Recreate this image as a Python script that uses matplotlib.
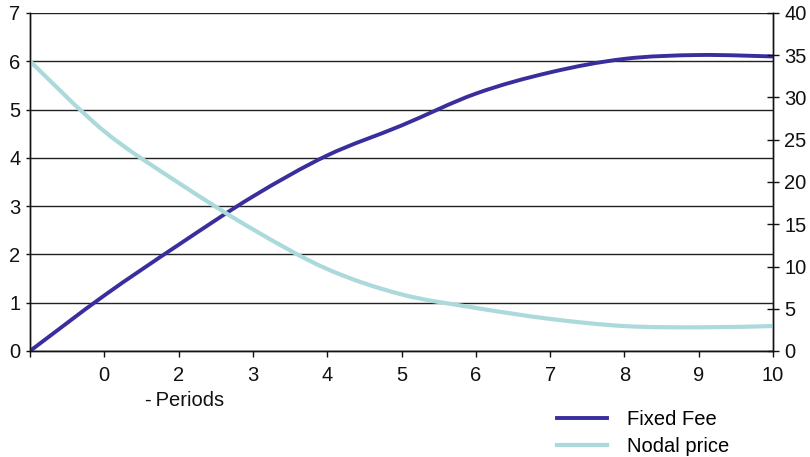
import matplotlib
matplotlib.use("Agg")
import matplotlib.pyplot as plt
import numpy as np
from matplotlib.path import Path
from matplotlib.patches import PathPatch
from matplotlib.lines import Line2D

plt.rcParams['font.family'] = ['Liberation Sans', 'DejaVu Sans']

# Data
periods = list(range(11))
tick_labels = ['', '0', '2', '3', '4', '5', '6', '7', '8', '9', '10']
fixed_fee = [0.0, 1.15, 2.2, 3.2, 4.05, 4.67, 5.33, 5.77, 6.05, 6.13, 6.1]
nodal_price = [34.3, 26.0, 19.9, 14.4, 9.7, 6.7, 5.1, 3.8, 2.95, 2.8, 2.95]

FIXED_COLOR = '#3a2e9c'
NODAL_COLOR = '#acd9db'
FS = 14.5


def smooth_path(xs, ys):
    """Catmull-Rom style cubic Bezier path through the given points."""
    pts = np.column_stack([xs, ys]).astype(float)
    n = len(pts)
    verts = [pts[0]]
    codes = [Path.MOVETO]
    for i in range(n - 1):
        p0 = pts[i - 1] if i > 0 else pts[i]
        p1 = pts[i]
        p2 = pts[i + 1]
        p3 = pts[i + 2] if i + 2 < n else pts[i + 1]
        c1 = p1 + (p2 - p0) / 6.0
        c2 = p2 - (p3 - p1) / 6.0
        verts += [c1, c2, p2]
        codes += [Path.CURVE4] * 3
    return Path(verts, codes)


fig = plt.figure(figsize=(8.1, 4.57), dpi=100)
ax = fig.add_axes([30 / 810, 1 - 351 / 457, (773 - 30) / 810, (351 - 13) / 457])
ax2 = ax.twinx()

ax.set_xlim(0, 10)
ax.set_ylim(0, 7)
ax2.set_ylim(0, 40)

# Horizontal gridlines
for v in range(0, 8):
    ax.axhline(v, color='#222222', lw=1.0, zorder=1)

ax.add_patch(PathPatch(smooth_path(periods, fixed_fee), fill=False,
                       edgecolor=FIXED_COLOR, lw=2.8, capstyle='round',
                       joinstyle='round', zorder=3))
ax2.add_patch(PathPatch(smooth_path(periods, nodal_price), fill=False,
                        edgecolor=NODAL_COLOR, lw=3.0, capstyle='round',
                        joinstyle='round', zorder=2))

ax.set_xticks(periods)
ax.set_xticklabels(tick_labels)
ax.set_yticks(range(0, 8))
ax2.set_yticks(range(0, 41, 5))

for a in (ax, ax2):
    a.spines['top'].set_visible(False)
    for s in a.spines.values():
        s.set_color('#111111')
        s.set_linewidth(1.0)

ax.tick_params(axis='x', direction='out', length=4, width=1, pad=7,
               labelsize=FS, colors='#111111')
ax.tick_params(axis='y', direction='out', length=3, width=1, pad=4,
               labelsize=FS, colors='#111111')
ax2.tick_params(axis='y', direction='inout', length=8, width=1, pad=4,
                labelsize=FS, colors='#111111')

fig.text(185 / 810, 1 - 400 / 457, '-\u2009Periods', ha='center', va='center',
         fontsize=FS, color='#111111')

handles = [Line2D([], [], color=FIXED_COLOR, lw=2.8),
           Line2D([], [], color=NODAL_COLOR, lw=3.0)]
fig.legend(handles, ['Fixed Fee', 'Nodal price'], loc='center left',
           bbox_to_anchor=(557 / 810, 1 - 433 / 457), frameon=False,
           fontsize=FS, handlelength=2.5, handletextpad=1.0,
           labelspacing=0.4, borderaxespad=0, borderpad=0)

fig.savefig('out.png', dpi=100)
